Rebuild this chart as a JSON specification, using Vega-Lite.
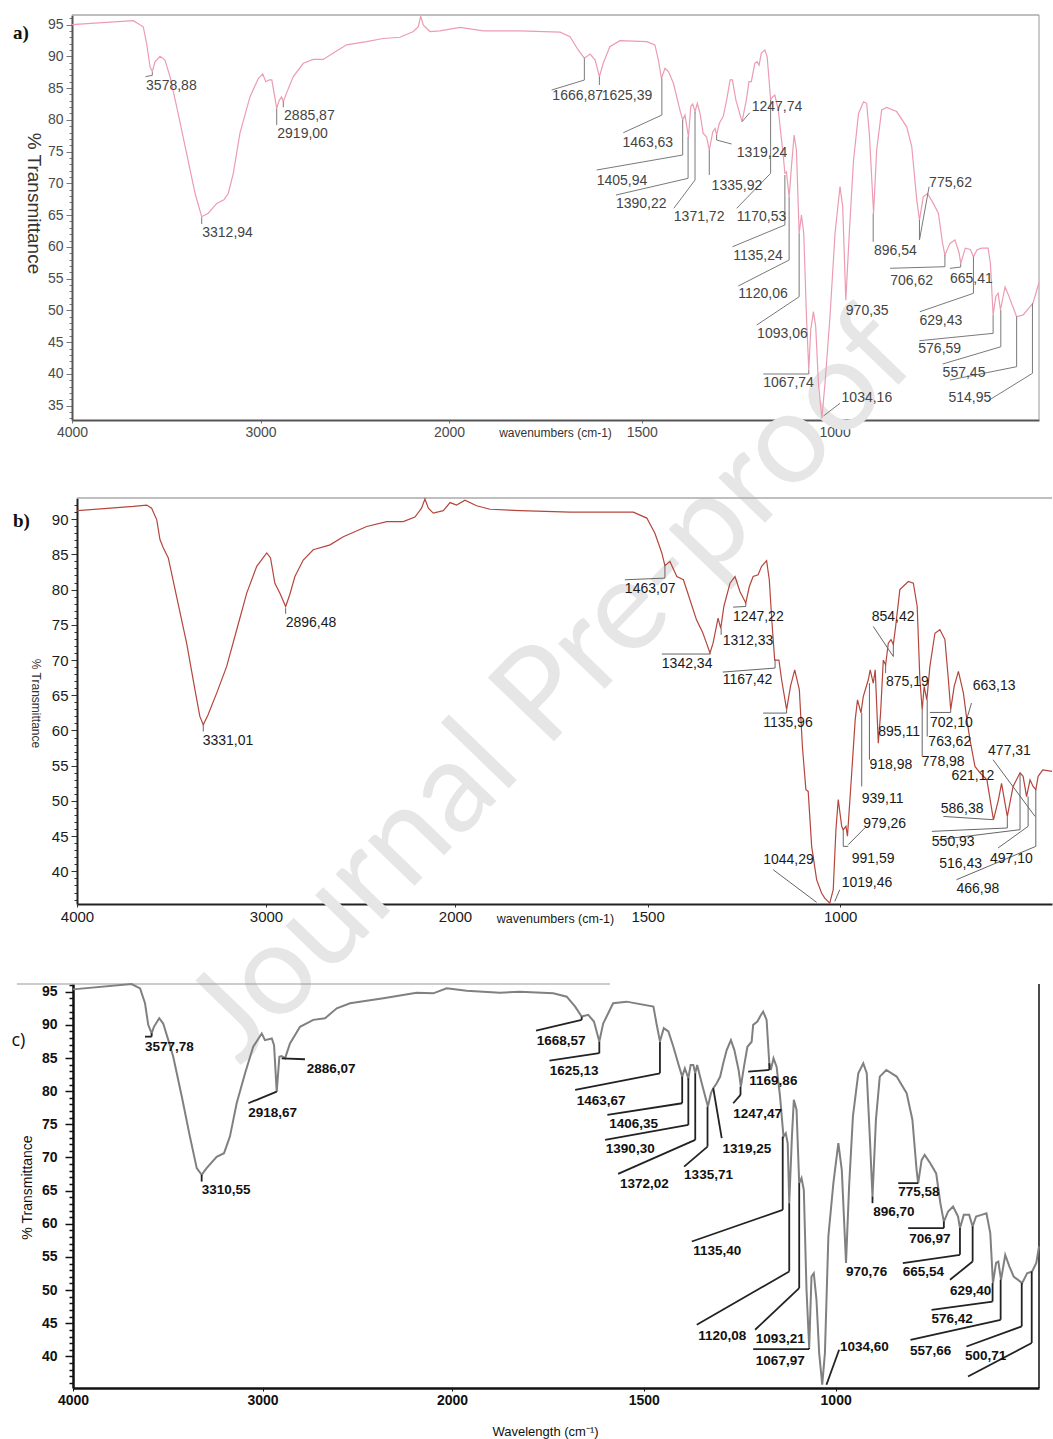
{
"$schema": "https://vega.github.io/schema/vega-lite/v6.json",
"width": 1053, "height": 1439,
"autosize": {"type": "none"},
"padding": 0,
"background": "white",
"config": {"view": {"stroke": null}, "axis": {"grid": false}},
"datasets": {
"ca": [{"w":4000,"t":95.0},{"w":3675,"t":95.6},{"w":3622,"t":94.65},{"w":3604,"t":92.0},{"w":3586,"t":88.35},{"w":3574,"t":87.6},{"w":3560,"t":89.1},{"w":3533,"t":90.0},{"w":3507,"t":89.4},{"w":3480,"t":86.8},{"w":3445,"t":82.1},{"w":3392,"t":74.7},{"w":3347,"t":68.4},{"w":3312,"t":64.75},{"w":3277,"t":65.3},{"w":3232,"t":66.85},{"w":3194,"t":67.4},{"w":3171,"t":68.4},{"w":3144,"t":71.6},{"w":3109,"t":77.9},{"w":3056,"t":83.6},{"w":3012,"t":86.5},{"w":2988,"t":87.2},{"w":2972,"t":86.0},{"w":2953,"t":86.3},{"w":2940,"t":86.3},{"w":2928,"t":84.2},{"w":2914,"t":81.8},{"w":2900,"t":83.1},{"w":2888,"t":83.6},{"w":2879,"t":82.85},{"w":2862,"t":84.2},{"w":2826,"t":86.8},{"w":2773,"t":88.9},{"w":2720,"t":89.5},{"w":2667,"t":89.5},{"w":2614,"t":90.5},{"w":2543,"t":91.8},{"w":2437,"t":92.3},{"w":2349,"t":92.8},{"w":2260,"t":93.0},{"w":2189,"t":93.9},{"w":2163,"t":94.65},{"w":2150,"t":96.3},{"w":2136,"t":94.9},{"w":2101,"t":93.9},{"w":2048,"t":94.0},{"w":1971,"t":94.55},{"w":1911,"t":94.0},{"w":1842,"t":94.0},{"w":1816,"t":94.0},{"w":1712,"t":93.8},{"w":1686,"t":93.1},{"w":1665,"t":91.0},{"w":1649,"t":89.7},{"w":1634,"t":90.35},{"w":1621,"t":89.4},{"w":1610,"t":86.8},{"w":1600,"t":88.9},{"w":1583,"t":91.5},{"w":1557,"t":92.45},{"w":1487,"t":92.3},{"w":1466,"t":91.8},{"w":1457,"t":89.4},{"w":1449,"t":86.5},{"w":1440,"t":88.1},{"w":1431,"t":87.6},{"w":1418,"t":85.75},{"w":1401,"t":81.5},{"w":1394,"t":80.0},{"w":1388,"t":80.75},{"w":1379,"t":77.3},{"w":1373,"t":82.1},{"w":1368,"t":82.5},{"w":1362,"t":81.3},{"w":1356,"t":82.6},{"w":1349,"t":81.0},{"w":1341,"t":77.9},{"w":1332,"t":77.3},{"w":1325,"t":75.25},{"w":1316,"t":78.1},{"w":1310,"t":78.65},{"w":1306,"t":77.6},{"w":1299,"t":79.45},{"w":1289,"t":80.5},{"w":1280,"t":83.1},{"w":1271,"t":86.3},{"w":1265,"t":86.3},{"w":1256,"t":83.1},{"w":1240,"t":79.7},{"w":1229,"t":83.1},{"w":1222,"t":86.0},{"w":1216,"t":86.0},{"w":1207,"t":88.9},{"w":1201,"t":89.15},{"w":1196,"t":88.6},{"w":1190,"t":90.5},{"w":1181,"t":91.0},{"w":1175,"t":89.95},{"w":1170,"t":86.3},{"w":1166,"t":83.1},{"w":1161,"t":83.6},{"w":1155,"t":83.9},{"w":1146,"t":81.5},{"w":1133,"t":74.2},{"w":1129,"t":71.6},{"w":1125,"t":71.8},{"w":1118,"t":67.9},{"w":1112,"t":72.6},{"w":1105,"t":77.6},{"w":1099,"t":75.25},{"w":1092,"t":62.1},{"w":1086,"t":65.0},{"w":1080,"t":62.1},{"w":1073,"t":49.0},{"w":1067,"t":40.6},{"w":1062,"t":46.9},{"w":1055,"t":49.8},{"w":1049,"t":47.4},{"w":1042,"t":38.5},{"w":1033,"t":33.0},{"w":1025,"t":38.5},{"w":1012,"t":49.0},{"w":999,"t":62.1},{"w":986,"t":69.5},{"w":979,"t":66.3},{"w":971,"t":51.6},{"w":962,"t":62.1},{"w":951,"t":73.6},{"w":938,"t":81.0},{"w":925,"t":82.85},{"w":917,"t":82.6},{"w":910,"t":77.9},{"w":899,"t":65.3},{"w":891,"t":75.25},{"w":878,"t":81.55},{"w":865,"t":81.95},{"w":839,"t":81.3},{"w":813,"t":78.9},{"w":800,"t":75.8},{"w":787,"t":67.4},{"w":780,"t":64.2},{"w":770,"t":67.9},{"w":759,"t":68.4},{"w":744,"t":66.85},{"w":731,"t":65.3},{"w":720,"t":60.55},{"w":714,"t":58.7},{"w":701,"t":60.55},{"w":688,"t":61.1},{"w":677,"t":59.0},{"w":673,"t":57.4},{"w":661,"t":59.8},{"w":648,"t":59.6},{"w":640,"t":58.45},{"w":631,"t":59.5},{"w":619,"t":59.8},{"w":602,"t":59.8},{"w":596,"t":57.4},{"w":589,"t":49.3},{"w":582,"t":52.2},{"w":576,"t":52.7},{"w":570,"t":50.1},{"w":558,"t":53.7},{"w":549,"t":52.4},{"w":541,"t":51.1},{"w":528,"t":49.0},{"w":511,"t":49.3},{"w":493,"t":50.6},{"w":486,"t":51.1},{"w":478,"t":52.7},{"w":470,"t":54.4}],
"la": [
{"s":"3578,88","lx":3607,"ly":85.4,"px":3574,"py":87.5,"bx":3574,"by":87.0,"ex":3610,"ey":86.8},
{"s":"3312,94","lx":3309,"ly":62.26,"px":3312,"py":64.65,"bx":3312,"by":63.6,"ex":3312,"ey":63.6},
{"s":"2885,87","lx":2875,"ly":80.63,"px":2879,"py":82.85,"bx":2879,"by":81.97,"ex":2879,"ey":81.97},
{"s":"2919,00","lx":2911,"ly":77.76,"px":2914,"py":81.8,"bx":2914,"by":79.18,"ex":2914,"ey":79.18},
{"s":"1666,87","lx":1732,"ly":83.78,"px":1649,"py":89.68,"bx":1649,"by":86.26,"ex":1734,"ey":84.69},
{"s":"1625,39","lx":1604,"ly":83.78,"px":1610,"py":86.78,"bx":1610,"by":85.48,"ex":1610,"ey":85.48},
{"s":"1463,63","lx":1550,"ly":76.43,"px":1448,"py":86.53,"bx":1448,"by":80.75,"ex":1548,"ey":77.97},
{"s":"1405,94","lx":1617,"ly":70.44,"px":1394,"py":79.97,"bx":1394,"by":74.46,"ex":1617,"ey":72.1},
{"s":"1390,22","lx":1567,"ly":66.75,"px":1380,"py":77.34,"bx":1380,"by":70.79,"ex":1567,"ey":68.16},
{"s":"1371,72","lx":1417,"ly":64.75,"px":1362,"py":81.27,"bx":1362,"by":70.52,"ex":1417,"ey":66.07},
{"s":"1335,92","lx":1319,"ly":69.61,"px":1325,"py":75.25,"bx":1325,"by":71.31,"ex":1325,"ey":71.31},
{"s":"1319,24","lx":1254,"ly":74.77,"px":1306,"py":77.61,"bx":1306,"by":76.82,"ex":1267,"ey":76.19},
{"s":"1247,74","lx":1215,"ly":81.94,"px":1240,"py":79.7,"bx":1240,"by":79.7,"ex":1220,"ey":81.12},
{"s":"1170,53","lx":1254,"ly":64.75,"px":1166,"py":83.12,"bx":1166,"by":71.58,"ex":1254,"ey":66.07},
{"s":"1135,24","lx":1263,"ly":58.59,"px":1129,"py":71.31,"bx":1129,"by":63.44,"ex":1265,"ey":60.02},
{"s":"1120,06","lx":1250,"ly":52.58,"px":1118,"py":67.9,"bx":1118,"by":57.93,"ex":1250,"ey":53.84},
{"s":"1093,06","lx":1201,"ly":46.28,"px":1092,"py":62.13,"bx":1092,"by":52.15,"ex":1202,"ey":47.7},
{"s":"1067,74","lx":1185,"ly":38.65,"px":1067,"py":40.6,"bx":1067,"by":39.99,"ex":1185,"ey":39.99},
{"s":"1034,16","lx":982,"ly":36.29,"px":1029,"py":33.38,"bx":1029,"by":33.38,"ex":986,"ey":35.38},
{"s":"970,35","lx":971,"ly":49.93,"px":971,"py":49.93,"bx":971,"by":49.93,"ex":971,"ey":49.93},
{"s":"896,54","lx":898,"ly":59.38,"px":900,"py":65.28,"bx":900,"by":60.81,"ex":900,"ey":60.81},
{"s":"775,62","lx":755,"ly":70.13,"px":780,"py":64.23,"bx":780,"by":61.08,"ex":755,"ey":69.47},
{"s":"706,62","lx":856,"ly":54.66,"px":714,"py":58.72,"bx":714,"by":56.88,"ex":856,"ey":56.63},
{"s":"665,41","lx":701,"ly":54.94,"px":673,"py":57.41,"bx":673,"by":56.83,"ex":701,"ey":56.62},
{"s":"629,43","lx":780,"ly":48.36,"px":640,"py":58.45,"bx":640,"by":52.69,"ex":779,"ey":49.79},
{"s":"576,59","lx":783,"ly":43.92,"px":589,"py":49.27,"bx":589,"by":46.39,"ex":780,"ey":45.23},
{"s":"557,45","lx":720,"ly":40.22,"px":569,"py":50.06,"bx":569,"by":44.28,"ex":720,"ey":41.56},
{"s":"","lx":701,"ly":39.04,"px":528,"py":49.01,"bx":528,"by":41.14,"ex":701,"ey":39.04},
{"s":"514,95","lx":705,"ly":36.29,"px":487,"py":51.12,"bx":487,"by":40.1,"ex":606,"ey":35.63}],
"cb": [{"w":4000,"t":91.2},{"w":3702,"t":91.8},{"w":3631,"t":92.0},{"w":3605,"t":91.55},{"w":3578,"t":89.9},{"w":3561,"t":87.1},{"w":3543,"t":85.9},{"w":3517,"t":84.5},{"w":3473,"t":79.0},{"w":3420,"t":72.4},{"w":3376,"t":65.8},{"w":3350,"t":62.0},{"w":3332,"t":60.8},{"w":3307,"t":62.2},{"w":3261,"t":65.3},{"w":3208,"t":69.1},{"w":3155,"t":74.3},{"w":3102,"t":79.5},{"w":3049,"t":83.3},{"w":2996,"t":85.2},{"w":2976,"t":84.5},{"w":2953,"t":80.9},{"w":2927,"t":79.5},{"w":2896,"t":77.6},{"w":2874,"t":79.3},{"w":2847,"t":81.85},{"w":2803,"t":84.2},{"w":2750,"t":85.65},{"w":2661,"t":86.35},{"w":2591,"t":87.5},{"w":2467,"t":88.95},{"w":2361,"t":89.65},{"w":2274,"t":89.65},{"w":2212,"t":90.3},{"w":2177,"t":91.55},{"w":2159,"t":92.85},{"w":2141,"t":91.55},{"w":2115,"t":90.85},{"w":2062,"t":91.2},{"w":2026,"t":92.35},{"w":1996,"t":92.0},{"w":1974,"t":92.7},{"w":1944,"t":91.9},{"w":1909,"t":91.4},{"w":1831,"t":91.2},{"w":1701,"t":91.0},{"w":1537,"t":91.0},{"w":1502,"t":90.15},{"w":1481,"t":88.0},{"w":1463,"t":85.2},{"w":1455,"t":83.4},{"w":1442,"t":84.0},{"w":1424,"t":81.85},{"w":1407,"t":81.4},{"w":1390,"t":78.55},{"w":1373,"t":75.7},{"w":1357,"t":73.9},{"w":1347,"t":72.4},{"w":1338,"t":71.0},{"w":1330,"t":72.4},{"w":1317,"t":75.95},{"w":1310,"t":74.5},{"w":1302,"t":77.6},{"w":1286,"t":80.9},{"w":1273,"t":81.85},{"w":1260,"t":79.7},{"w":1245,"t":78.1},{"w":1236,"t":80.4},{"w":1226,"t":81.85},{"w":1213,"t":82.1},{"w":1204,"t":83.3},{"w":1191,"t":84.1},{"w":1184,"t":81.4},{"w":1177,"t":75.25},{"w":1170,"t":70.0},{"w":1159,"t":70.0},{"w":1152,"t":67.2},{"w":1139,"t":62.95},{"w":1129,"t":66.25},{"w":1118,"t":68.6},{"w":1106,"t":65.8},{"w":1098,"t":57.7},{"w":1089,"t":51.6},{"w":1083,"t":51.35},{"w":1074,"t":43.55},{"w":1061,"t":38.8},{"w":1048,"t":36.9},{"w":1040,"t":36.2},{"w":1027,"t":35.5},{"w":1018,"t":37.4},{"w":1011,"t":45.9},{"w":1005,"t":50.2},{"w":996,"t":46.4},{"w":992,"t":45.9},{"w":985,"t":46.4},{"w":981,"t":45.0},{"w":970,"t":54.0},{"w":961,"t":61.5},{"w":955,"t":64.35},{"w":946,"t":62.5},{"w":940,"t":64.8},{"w":927,"t":67.2},{"w":922,"t":68.6},{"w":914,"t":66.7},{"w":909,"t":68.6},{"w":901,"t":58.2},{"w":895,"t":62.5},{"w":888,"t":70.0},{"w":882,"t":69.3},{"w":875,"t":72.4},{"w":868,"t":72.9},{"w":862,"t":72.2},{"w":856,"t":74.75},{"w":845,"t":80.0},{"w":823,"t":81.15},{"w":810,"t":80.9},{"w":800,"t":77.6},{"w":793,"t":67.2},{"w":787,"t":62.95},{"w":782,"t":66.25},{"w":775,"t":64.35},{"w":767,"t":69.1},{"w":754,"t":73.8},{"w":741,"t":74.3},{"w":728,"t":72.9},{"w":719,"t":67.2},{"w":713,"t":62.95},{"w":704,"t":66.25},{"w":693,"t":68.4},{"w":680,"t":65.3},{"w":671,"t":61.5},{"w":663,"t":58.7},{"w":650,"t":54.9},{"w":637,"t":54.0},{"w":619,"t":53.0},{"w":602,"t":47.3},{"w":589,"t":50.2},{"w":581,"t":52.5},{"w":566,"t":47.8},{"w":551,"t":52.05},{"w":533,"t":54.0},{"w":525,"t":53.5},{"w":516,"t":50.6},{"w":507,"t":53.0},{"w":499,"t":52.05},{"w":492,"t":51.6},{"w":486,"t":53.5},{"w":474,"t":54.4},{"w":450,"t":54.2}],
"lb": [
{"s":"3331,01","lx":3335,"ly":58.44,"px":3332,"py":60.81,"bx":3332,"by":59.86,"ex":3332,"ey":59.86},
{"s":"2896,48","lx":2896,"ly":75.24,"px":2896,"py":77.37,"bx":2896,"by":76.56,"ex":2896,"ey":76.56},
{"s":"1463,07","lx":1559,"ly":80.08,"px":1455,"py":83.37,"bx":1455,"by":81.63,"ex":1559,"ey":81.39},
{"s":"1342,34","lx":1463,"ly":69.47,"px":1338,"py":71.0,"bx":1338,"by":70.85,"ex":1463,"ey":70.85},
{"s":"1312,33","lx":1305,"ly":72.76,"px":1309,"py":74.53,"bx":1309,"by":73.58,"ex":1309,"ey":73.58},
{"s":"1247,22","lx":1278,"ly":76.07,"px":1245,"py":78.08,"bx":1245,"by":77.6,"ex":1278,"ey":77.51},
{"s":"1167,42","lx":1305,"ly":67.2,"px":1169,"py":70.04,"bx":1169,"by":68.86,"ex":1305,"ey":68.29},
{"s":"1135,96","lx":1200,"ly":61.06,"px":1139,"py":62.94,"bx":1139,"by":62.47,"ex":1200,"ey":62.47},
{"s":"854,42","lx":918,"ly":76.07,"px":862,"py":72.2,"bx":862,"by":70.5,"ex":914,"ey":74.76},
{"s":"875,19","lx":881,"ly":66.84,"px":882,"py":69.33,"bx":882,"by":68.15,"ex":882,"ey":68.15},
{"s":"895,11","lx":901,"ly":59.75,"px":901,"py":59.75,"bx":901,"by":59.75,"ex":901,"ey":59.75},
{"s":"918,98","lx":924,"ly":55.03,"px":924,"py":66.73,"bx":924,"by":55.85,"ex":924,"ey":55.85},
{"s":"939,11","lx":944,"ly":50.29,"px":944,"py":62.47,"bx":944,"by":52.06,"ex":944,"ey":52.06},
{"s":"979,26","lx":940,"ly":46.74,"px":979,"py":43.79,"bx":979,"by":43.79,"ex":936,"ey":46.16},
{"s":"991,59","lx":970,"ly":41.77,"px":992,"py":45.92,"bx":992,"by":43.55,"ex":979,"ey":43.55},
{"s":"1044,29","lx":1200,"ly":41.55,"px":1061,"py":35.6,"bx":1061,"by":35.6,"ex":1174,"ey":40.24},
{"s":"1019,46","lx":996,"ly":38.42,"px":1014,"py":35.74,"bx":1014,"by":35.74,"ex":1001,"ey":37.4},
{"s":"663,13","lx":656,"ly":66.38,"px":672,"py":61.52,"bx":672,"by":61.52,"ex":659,"ey":63.89},
{"s":"702,10","lx":767,"ly":61.06,"px":713,"py":62.94,"bx":713,"by":62.56,"ex":767,"ey":62.56},
{"s":"763,62","lx":771,"ly":58.33,"px":774,"py":64.36,"bx":774,"by":59.15,"ex":774,"ey":59.15},
{"s":"778,98","lx":788,"ly":55.49,"px":787,"py":62.94,"bx":787,"by":56.32,"ex":787,"ey":56.32},
{"s":"621,12","lx":711,"ly":53.61,"px":711,"py":53.61,"bx":711,"by":53.61,"ex":711,"ey":53.61},
{"s":"477,31","lx":616,"ly":57.15,"px":494,"py":47.8,"bx":494,"by":47.8,"ex":603,"ey":55.85},
{"s":"586,38","lx":739,"ly":48.87,"px":603,"py":47.34,"bx":603,"by":47.34,"ex":732,"ey":47.8},
{"s":"550,93","lx":762,"ly":44.14,"px":566,"py":47.8,"bx":566,"by":46.16,"ex":762,"ey":45.68},
{"s":"516,43","lx":743,"ly":41.06,"px":533,"py":53.96,"bx":533,"by":45.92,"ex":743,"ey":44.5},
{"s":"497,10","lx":611,"ly":41.77,"px":512,"py":50.64,"bx":512,"by":46.39,"ex":590,"ey":43.32},
{"s":"466,98","lx":698,"ly":37.52,"px":492,"py":51.59,"bx":492,"by":43.55,"ex":698,"ey":38.82}],
"cc": [{"w":4000,"t":95.35},{"w":3691,"t":96.15},{"w":3646,"t":95.5},{"w":3620,"t":93.25},{"w":3603,"t":90.0},{"w":3585,"t":88.7},{"w":3573,"t":89.7},{"w":3545,"t":91.0},{"w":3524,"t":90.2},{"w":3497,"t":87.7},{"w":3471,"t":85.2},{"w":3426,"t":79.2},{"w":3383,"t":73.15},{"w":3347,"t":68.4},{"w":3321,"t":67.4},{"w":3295,"t":68.4},{"w":3242,"t":70.1},{"w":3203,"t":70.65},{"w":3172,"t":73.15},{"w":3136,"t":78.2},{"w":3092,"t":82.7},{"w":3049,"t":86.7},{"w":3004,"t":88.7},{"w":2987,"t":87.7},{"w":2951,"t":87.95},{"w":2939,"t":86.95},{"w":2925,"t":79.9},{"w":2911,"t":85.2},{"w":2899,"t":85.3},{"w":2881,"t":84.95},{"w":2855,"t":87.2},{"w":2802,"t":89.7},{"w":2732,"t":90.75},{"w":2670,"t":91.0},{"w":2608,"t":92.5},{"w":2538,"t":93.25},{"w":2362,"t":94.0},{"w":2187,"t":94.85},{"w":2099,"t":94.75},{"w":2028,"t":95.5},{"w":1962,"t":95.15},{"w":1875,"t":94.85},{"w":1823,"t":95.0},{"w":1736,"t":94.75},{"w":1701,"t":94.25},{"w":1679,"t":92.75},{"w":1662,"t":91.25},{"w":1645,"t":91.5},{"w":1630,"t":90.5},{"w":1616,"t":87.5},{"w":1606,"t":90.2},{"w":1580,"t":93.25},{"w":1545,"t":93.5},{"w":1475,"t":92.75},{"w":1467,"t":90.2},{"w":1458,"t":87.5},{"w":1448,"t":89.5},{"w":1436,"t":89.0},{"w":1423,"t":86.7},{"w":1408,"t":83.7},{"w":1400,"t":82.2},{"w":1393,"t":83.45},{"w":1384,"t":81.95},{"w":1378,"t":83.95},{"w":1371,"t":83.95},{"w":1366,"t":82.7},{"w":1361,"t":83.95},{"w":1349,"t":81.2},{"w":1340,"t":79.2},{"w":1333,"t":77.7},{"w":1325,"t":79.7},{"w":1319,"t":80.45},{"w":1310,"t":81.2},{"w":1301,"t":82.2},{"w":1293,"t":84.2},{"w":1284,"t":86.2},{"w":1273,"t":87.7},{"w":1264,"t":86.2},{"w":1253,"t":83.2},{"w":1247,"t":80.7},{"w":1239,"t":83.7},{"w":1230,"t":86.7},{"w":1219,"t":87.45},{"w":1215,"t":90.0},{"w":1204,"t":90.5},{"w":1197,"t":91.25},{"w":1189,"t":92.0},{"w":1180,"t":90.75},{"w":1173,"t":84.2},{"w":1169,"t":83.2},{"w":1162,"t":84.95},{"w":1154,"t":83.7},{"w":1145,"t":79.2},{"w":1136,"t":73.15},{"w":1130,"t":73.65},{"w":1125,"t":72.15},{"w":1121,"t":63.1},{"w":1114,"t":73.15},{"w":1109,"t":78.7},{"w":1102,"t":77.2},{"w":1095,"t":66.1},{"w":1089,"t":66.9},{"w":1083,"t":65.1},{"w":1076,"t":50.05},{"w":1069,"t":41.3},{"w":1063,"t":52.05},{"w":1057,"t":52.55},{"w":1050,"t":48.55},{"w":1043,"t":40.5},{"w":1035,"t":35.75},{"w":1028,"t":40.5},{"w":1019,"t":58.1},{"w":1006,"t":66.1},{"w":993,"t":72.15},{"w":984,"t":68.1},{"w":973,"t":54.1},{"w":965,"t":65.6},{"w":955,"t":76.2},{"w":941,"t":82.7},{"w":928,"t":84.2},{"w":919,"t":82.7},{"w":911,"t":73.15},{"w":904,"t":64.1},{"w":895,"t":75.7},{"w":885,"t":82.2},{"w":868,"t":83.2},{"w":841,"t":82.2},{"w":815,"t":79.7},{"w":800,"t":75.7},{"w":789,"t":68.1},{"w":785,"t":66.1},{"w":776,"t":69.6},{"w":768,"t":70.4},{"w":753,"t":69.1},{"w":738,"t":67.6},{"w":727,"t":63.1},{"w":718,"t":60.3},{"w":707,"t":61.85},{"w":694,"t":62.6},{"w":681,"t":61.1},{"w":676,"t":59.35},{"w":666,"t":61.35},{"w":652,"t":61.35},{"w":643,"t":59.6},{"w":634,"t":61.1},{"w":620,"t":61.35},{"w":607,"t":61.6},{"w":597,"t":58.6},{"w":590,"t":51.05},{"w":582,"t":54.1},{"w":576,"t":54.3},{"w":569,"t":51.55},{"w":558,"t":55.3},{"w":547,"t":53.55},{"w":536,"t":52.05},{"w":514,"t":51.05},{"w":501,"t":52.55},{"w":488,"t":52.8},{"w":477,"t":54.1},{"w":470,"t":56.6}],
"lc": [
{"s":"3577,78","lx":3620,"ly":86.71,"px":3585,"py":88.73,"bx":3585,"by":88.22,"ex":3620,"ey":88.22},
{"s":"3310,55","lx":3321,"ly":65.12,"px":3321,"py":67.38,"bx":3321,"by":66.37,"ex":3321,"ey":66.37},
{"s":"2918,67","lx":3075,"ly":76.68,"px":2925,"py":79.93,"bx":2925,"by":79.93,"ex":3075,"ey":78.18},
{"s":"2886,07","lx":2767,"ly":83.32,"px":2899,"py":84.96,"bx":2899,"by":84.96,"ex":2776,"ey":84.81},
{"s":"1668,57","lx":1779,"ly":87.6,"px":1662,"py":91.23,"bx":1662,"by":90.74,"ex":1781,"ey":89.12},
{"s":"1625,13","lx":1745,"ly":83.08,"px":1616,"py":87.47,"bx":1616,"by":85.72,"ex":1746,"ey":84.6},
{"s":"1463,67","lx":1675,"ly":78.56,"px":1458,"py":87.47,"bx":1458,"by":82.7,"ex":1679,"ey":80.19},
{"s":"1406,35","lx":1590,"ly":75.03,"px":1400,"py":82.19,"bx":1400,"by":78.18,"ex":1595,"ey":76.42},
{"s":"1390,30","lx":1599,"ly":71.27,"px":1384,"py":81.95,"bx":1384,"by":74.91,"ex":1601,"ey":72.65},
{"s":"1372,02","lx":1562,"ly":65.99,"px":1366,"py":82.7,"bx":1366,"by":72.65,"ex":1567,"ey":67.53},
{"s":"1335,71","lx":1395,"ly":67.3,"px":1334,"py":77.67,"bx":1334,"by":71.64,"ex":1395,"ey":68.63},
{"s":"1319,25","lx":1295,"ly":71.27,"px":1319,"py":80.44,"bx":1319,"by":80.44,"ex":1297,"ey":72.91},
{"s":"1247,47","lx":1267,"ly":76.54,"px":1248,"py":80.68,"bx":1248,"by":79.43,"ex":1267,"ey":78.18},
{"s":"1169,86","lx":1225,"ly":81.57,"px":1173,"py":84.21,"bx":1173,"by":83.2,"ex":1228,"ey":82.94},
{"s":"1135,40","lx":1371,"ly":55.96,"px":1138,"py":73.15,"bx":1138,"by":62.1,"ex":1375,"ey":57.33},
{"s":"1120,08","lx":1358,"ly":43.15,"px":1121,"py":63.11,"bx":1121,"by":52.81,"ex":1362,"ey":44.77},
{"s":"1093,21","lx":1208,"ly":42.63,"px":1095,"py":66.13,"bx":1095,"by":50.3,"ex":1210,"ey":44.02},
{"s":"1067,97","lx":1208,"ly":39.38,"px":1069,"py":41.3,"bx":1069,"by":41.11,"ex":1215,"ey":41.11},
{"s":"1034,60","lx":989,"ly":41.38,"px":1024,"py":35.73,"bx":1024,"by":35.73,"ex":991,"ey":41.01},
{"s":"970,76","lx":973,"ly":52.69,"px":973,"py":52.69,"bx":973,"by":52.69,"ex":973,"ey":52.69},
{"s":"896,70","lx":902,"ly":61.73,"px":904,"py":64.11,"bx":904,"by":63.11,"ex":904,"ey":63.11},
{"s":"775,58","lx":837,"ly":64.74,"px":785,"py":66.13,"bx":785,"by":66.13,"ex":837,"ey":66.13},
{"s":"706,97","lx":808,"ly":57.7,"px":718,"py":60.34,"bx":718,"by":59.35,"ex":811,"ey":59.35},
{"s":"665,54","lx":825,"ly":52.69,"px":676,"py":59.35,"bx":676,"by":55.32,"ex":825,"ey":54.07},
{"s":"629,40","lx":702,"ly":49.93,"px":643,"py":59.59,"bx":643,"by":54.31,"ex":702,"ey":51.56},
{"s":"576,42","lx":750,"ly":45.65,"px":591,"py":51.06,"bx":591,"by":48.28,"ex":750,"ey":47.03},
{"s":"557,66","lx":806,"ly":40.89,"px":570,"py":51.56,"bx":570,"by":45.53,"ex":805,"ey":42.51},
{"s":"500,71","lx":663,"ly":40.13,"px":515,"py":51.06,"bx":515,"by":44.52,"ex":659,"ey":41.5},
{"s":"","lx":655,"ly":36.98,"px":489,"py":52.81,"bx":489,"by":42.02,"ex":655,"ey":36.98}]
},
"layer": [
{"data": {"values": [{"k": "Journal Pre-proof"}]},
 "mark": {"type": "text", "font": "Lato", "fontSize": 128, "color": "#e6e6e6", "angle": -46, "align": "center", "baseline": "middle"},
 "encoding": {
  "x": {"datum": 1746, "type": "quantitative", "scale": {"domain": [4000, 2000, 450], "range": [77, 455, 1052], "nice": false, "zero": false}, "axis": null},
  "y": {"datum": 66.06, "type": "quantitative", "scale": {"domain": [35.37, 93.0], "range": [904, 498], "nice": false, "zero": false}, "axis": null},
  "text": {"field": "k"}}},

{"data": {"values": [{"k": 1}]},
 "mark": {"type": "rule", "color": "#aaaaaa", "strokeWidth": 1.5},
 "encoding": {
  "x": {"datum": 4000, "type": "quantitative", "scale": {"domain": [4000, 2000, 470], "range": [72, 449, 1039], "nice": false, "zero": false}, "axis": null},
  "x2": {"datum": 470},
  "y": {"datum": 96.5, "type": "quantitative", "scale": {"domain": [32.75, 96.5], "range": [420, 15], "nice": false, "zero": false}, "axis": null}}},
{"data": {"values": [{"k": 1}]},
 "mark": {"type": "rule", "color": "#999999", "strokeWidth": 1},
 "encoding": {
  "x": {"datum": 470, "type": "quantitative", "scale": {"domain": [4000, 2000, 470], "range": [72, 449, 1039], "nice": false, "zero": false}, "axis": null},
  "y": {"datum": 32.75, "type": "quantitative", "scale": {"domain": [32.75, 96.5], "range": [420, 15], "nice": false, "zero": false}, "axis": null},
  "y2": {"datum": 96.5}}},
{"data": {"name": "ca"},
 "mark": {"type": "line", "color": "#ec9cb2", "strokeWidth": 1.2},
 "encoding": {
  "x": {"field": "w", "type": "quantitative", "scale": {"domain": [4000, 2000, 470], "range": [72, 449, 1039], "nice": false, "zero": false},
   "axis": {"orient": "bottom", "offset": -1019, "values": [4000, 3000, 2000, 1500, 1000], "format": "d", "labelFlush": false, "labelOverlap": false, "labelFont": "Liberation Sans", "labelFontSize": 14, "labelColor": "#4a4a4a", "labelPadding": 2, "tickSize": 3, "tickColor": "#777777", "domainColor": "#555555", "domainWidth": 2, "title": "wavenumbers (cm-1)", "titleFont": "Liberation Sans", "titleFontSize": 12, "titleFontWeight": "normal", "titleColor": "#333333", "titleX": 555, "titleY": 12, "titleAlign": "center", "titleBaseline": "middle"}},
  "y": {"field": "t", "type": "quantitative", "scale": {"domain": [32.75, 96.5], "range": [420, 15], "nice": false, "zero": false},
   "axis": {"orient": "left", "offset": -72, "values": [33,34,35,36,37,38,39,40,41,42,43,44,45,46,47,48,49,50,51,52,53,54,55,56,57,58,59,60,61,62,63,64,65,66,67,68,69,70,71,72,73,74,75,76,77,78,79,80,81,82,83,84,85,86,87,88,89,90,91,92,93,94,95,96], "labelExpr": "datum.value % 5 === 0 ? datum.label : ''", "labelFlush": false, "labelOverlap": false, "labelFont": "Liberation Sans", "labelFontSize": 14, "labelColor": "#4a4a4a", "labelPadding": 3, "tickSize": {"condition": {"test": "datum.value % 5 === 0", "value": 6}, "value": 3}, "tickColor": "#777777", "domainColor": "#555555", "domainWidth": 2, "title": "% Transmittance", "titleFont": "Liberation Sans", "titleFontSize": 19, "titleFontWeight": "normal", "titleColor": "#333333", "titleAngle": 90, "titleX": -39, "titleY": 203, "titleAlign": "center", "titleBaseline": "middle"}}}},
{"data": {"name": "la"},
 "mark": {"type": "rule", "color": "#7a7a7a", "strokeWidth": 1},
 "encoding": {
  "x": {"field": "px", "type": "quantitative", "scale": {"domain": [4000, 2000, 470], "range": [72, 449, 1039], "nice": false, "zero": false}, "axis": null},
  "y": {"field": "py", "type": "quantitative", "scale": {"domain": [32.75, 96.5], "range": [420, 15], "nice": false, "zero": false}, "axis": null},
  "x2": {"field": "bx"}, "y2": {"field": "by"}}},
{"data": {"name": "la"},
 "mark": {"type": "rule", "color": "#7a7a7a", "strokeWidth": 1},
 "encoding": {
  "x": {"field": "bx", "type": "quantitative", "scale": {"domain": [4000, 2000, 470], "range": [72, 449, 1039], "nice": false, "zero": false}, "axis": null},
  "y": {"field": "by", "type": "quantitative", "scale": {"domain": [32.75, 96.5], "range": [420, 15], "nice": false, "zero": false}, "axis": null},
  "x2": {"field": "ex"}, "y2": {"field": "ey"}}},
{"data": {"name": "la"},
 "mark": {"type": "text", "font": "Liberation Sans", "fontSize": 14, "color": "#444444", "align": "left", "baseline": "middle"},
 "encoding": {
  "x": {"field": "lx", "type": "quantitative", "scale": {"domain": [4000, 2000, 470], "range": [72, 449, 1039], "nice": false, "zero": false}, "axis": null},
  "y": {"field": "ly", "type": "quantitative", "scale": {"domain": [32.75, 96.5], "range": [420, 15], "nice": false, "zero": false}, "axis": null},
  "text": {"field": "s"}}},
{"data": {"values": [{"k": "a)"}]},
 "mark": {"type": "text", "font": "Liberation Serif", "fontSize": 19, "fontWeight": "bold", "color": "#111111", "align": "center", "baseline": "middle"},
 "encoding": {
  "x": {"datum": 4271, "type": "quantitative", "scale": {"domain": [4000, 2000, 470], "range": [72, 449, 1039], "nice": false, "zero": false}, "axis": null},
  "y": {"datum": 93.66, "type": "quantitative", "scale": {"domain": [32.75, 96.5], "range": [420, 15], "nice": false, "zero": false}, "axis": null},
  "text": {"field": "k"}}},

{"data": {"values": [{"k": 1}]},
 "mark": {"type": "rule", "color": "#aaaaaa", "strokeWidth": 1.5},
 "encoding": {
  "x": {"datum": 4000, "type": "quantitative", "scale": {"domain": [4000, 2000, 450], "range": [77, 455, 1052], "nice": false, "zero": false}, "axis": null},
  "x2": {"datum": 450},
  "y": {"datum": 93.0, "type": "quantitative", "scale": {"domain": [35.37, 93.0], "range": [904, 498], "nice": false, "zero": false}, "axis": null}}},
{"data": {"name": "cb"},
 "mark": {"type": "line", "color": "#b4463d", "strokeWidth": 1.2},
 "encoding": {
  "x": {"field": "w", "type": "quantitative", "scale": {"domain": [4000, 2000, 450], "range": [77, 455, 1052], "nice": false, "zero": false},
   "axis": {"orient": "bottom", "offset": -535, "values": [4000, 3000, 2000, 1500, 1000], "format": "d", "labelFlush": false, "labelOverlap": false, "labelFont": "Liberation Sans", "labelFontSize": 15, "labelColor": "#1a1a1a", "labelPadding": 2, "tickSize": 3, "tickColor": "#333333", "domainColor": "#222222", "domainWidth": 2, "title": "wavenumbers (cm-1)", "titleFont": "Liberation Sans", "titleFontSize": 12.5, "titleFontWeight": "normal", "titleColor": "#1a1a1a", "titleX": 555, "titleY": 14, "titleAlign": "center", "titleBaseline": "middle"}},
  "y": {"field": "t", "type": "quantitative", "scale": {"domain": [35.37, 93.0], "range": [904, 498], "nice": false, "zero": false},
   "axis": {"orient": "left", "offset": -77, "values": [36,37,38,39,40,41,42,43,44,45,46,47,48,49,50,51,52,53,54,55,56,57,58,59,60,61,62,63,64,65,66,67,68,69,70,71,72,73,74,75,76,77,78,79,80,81,82,83,84,85,86,87,88,89,90,91,92], "labelExpr": "datum.value % 5 === 0 ? datum.label : ''", "labelFlush": false, "labelOverlap": false, "labelFont": "Liberation Sans", "labelFontSize": 15, "labelColor": "#1a1a1a", "labelPadding": 3, "tickSize": {"condition": {"test": "datum.value % 5 === 0", "value": 6}, "value": 3}, "tickColor": "#333333", "domainColor": "#222222", "domainWidth": 2, "title": "% Transmittance", "titleFont": "Liberation Sans", "titleFontSize": 12, "titleFontWeight": "normal", "titleColor": "#333333", "titleAngle": 90, "titleX": -42, "titleY": 703, "titleAlign": "center", "titleBaseline": "middle"}}}},
{"data": {"name": "lb"},
 "mark": {"type": "rule", "color": "#666666", "strokeWidth": 1},
 "encoding": {
  "x": {"field": "px", "type": "quantitative", "scale": {"domain": [4000, 2000, 450], "range": [77, 455, 1052], "nice": false, "zero": false}, "axis": null},
  "y": {"field": "py", "type": "quantitative", "scale": {"domain": [35.37, 93.0], "range": [904, 498], "nice": false, "zero": false}, "axis": null},
  "x2": {"field": "bx"}, "y2": {"field": "by"}}},
{"data": {"name": "lb"},
 "mark": {"type": "rule", "color": "#666666", "strokeWidth": 1},
 "encoding": {
  "x": {"field": "bx", "type": "quantitative", "scale": {"domain": [4000, 2000, 450], "range": [77, 455, 1052], "nice": false, "zero": false}, "axis": null},
  "y": {"field": "by", "type": "quantitative", "scale": {"domain": [35.37, 93.0], "range": [904, 498], "nice": false, "zero": false}, "axis": null},
  "x2": {"field": "ex"}, "y2": {"field": "ey"}}},
{"data": {"name": "lb"},
 "mark": {"type": "text", "font": "Liberation Sans", "fontSize": 14, "color": "#1a1a1a", "align": "left", "baseline": "middle"},
 "encoding": {
  "x": {"field": "lx", "type": "quantitative", "scale": {"domain": [4000, 2000, 450], "range": [77, 455, 1052], "nice": false, "zero": false}, "axis": null},
  "y": {"field": "ly", "type": "quantitative", "scale": {"domain": [35.37, 93.0], "range": [904, 498], "nice": false, "zero": false}, "axis": null},
  "text": {"field": "s"}}},
{"data": {"values": [{"k": "b)"}]},
 "mark": {"type": "text", "font": "Liberation Serif", "fontSize": 19, "fontWeight": "bold", "color": "#111111", "align": "center", "baseline": "middle"},
 "encoding": {
  "x": {"datum": 4294, "type": "quantitative", "scale": {"domain": [4000, 2000, 450], "range": [77, 455, 1052], "nice": false, "zero": false}, "axis": null},
  "y": {"datum": 89.69, "type": "quantitative", "scale": {"domain": [35.37, 93.0], "range": [904, 498], "nice": false, "zero": false}, "axis": null},
  "text": {"field": "k"}}},

{"data": {"values": [{"k": 1}]},
 "mark": {"type": "rule", "color": "#999999", "strokeWidth": 1.2},
 "encoding": {
  "x": {"datum": 4296, "type": "quantitative", "scale": {"domain": [4000, 2000, 470], "range": [73, 452, 1039], "nice": false, "zero": false}, "axis": null},
  "x2": {"datum": 1588},
  "y": {"datum": 96.16, "type": "quantitative", "scale": {"domain": [35.24, 96.16], "range": [1388, 984], "nice": false, "zero": false}, "axis": null}}},
{"data": {"values": [{"k": 1}]},
 "mark": {"type": "rule", "color": "#111111", "strokeWidth": 1.5},
 "encoding": {
  "x": {"datum": 470, "type": "quantitative", "scale": {"domain": [4000, 2000, 470], "range": [73, 452, 1039], "nice": false, "zero": false}, "axis": null},
  "y": {"datum": 35.24, "type": "quantitative", "scale": {"domain": [35.24, 96.16], "range": [1388, 984], "nice": false, "zero": false}, "axis": null},
  "y2": {"datum": 96.16}}},
{"data": {"name": "cc"},
 "mark": {"type": "line", "color": "#808080", "strokeWidth": 2},
 "encoding": {
  "x": {"field": "w", "type": "quantitative", "scale": {"domain": [4000, 2000, 470], "range": [73, 452, 1039], "nice": false, "zero": false},
   "axis": {"orient": "bottom", "offset": -51, "values": [4000, 3000, 2000, 1500, 1000], "format": "d", "labelFlush": false, "labelOverlap": false, "labelFont": "Liberation Sans", "labelFontSize": 14, "labelFontWeight": "bold", "labelColor": "#111111", "labelPadding": 2, "tickSize": 3, "tickColor": "#111111", "domainColor": "#111111", "domainWidth": 2.5, "title": "Wavelength (cm⁻¹)", "titleFont": "Liberation Sans", "titleFontSize": 13, "titleFontWeight": "normal", "titleColor": "#111111", "titleX": 545, "titleY": 43, "titleAlign": "center", "titleBaseline": "middle"}},
  "y": {"field": "t", "type": "quantitative", "scale": {"domain": [35.24, 96.16], "range": [1388, 984], "nice": false, "zero": false},
   "axis": {"orient": "left", "offset": -73, "values": [36,37,38,39,40,41,42,43,44,45,46,47,48,49,50,51,52,53,54,55,56,57,58,59,60,61,62,63,64,65,66,67,68,69,70,71,72,73,74,75,76,77,78,79,80,81,82,83,84,85,86,87,88,89,90,91,92,93,94,95,96], "labelExpr": "datum.value % 5 === 0 ? datum.label : ''", "labelFlush": false, "labelOverlap": false, "labelFont": "Liberation Sans", "labelFontSize": 14, "labelFontWeight": "bold", "labelColor": "#111111", "labelPadding": 8, "tickSize": {"condition": {"test": "datum.value % 5 === 0", "value": 8}, "value": 4}, "tickColor": "#111111", "tickWidth": 1.5, "domainColor": "#111111", "domainWidth": 2.5, "title": "% Transmittance", "titleFont": "Liberation Sans", "titleFontSize": 14, "titleFontWeight": "normal", "titleColor": "#111111", "titleAngle": -90, "titleX": -46, "titleY": 1187, "titleAlign": "center", "titleBaseline": "middle"}}}},
{"data": {"name": "lc"},
 "mark": {"type": "rule", "color": "#222222", "strokeWidth": 1.8},
 "encoding": {
  "x": {"field": "px", "type": "quantitative", "scale": {"domain": [4000, 2000, 470], "range": [73, 452, 1039], "nice": false, "zero": false}, "axis": null},
  "y": {"field": "py", "type": "quantitative", "scale": {"domain": [35.24, 96.16], "range": [1388, 984], "nice": false, "zero": false}, "axis": null},
  "x2": {"field": "bx"}, "y2": {"field": "by"}}},
{"data": {"name": "lc"},
 "mark": {"type": "rule", "color": "#222222", "strokeWidth": 1.8},
 "encoding": {
  "x": {"field": "bx", "type": "quantitative", "scale": {"domain": [4000, 2000, 470], "range": [73, 452, 1039], "nice": false, "zero": false}, "axis": null},
  "y": {"field": "by", "type": "quantitative", "scale": {"domain": [35.24, 96.16], "range": [1388, 984], "nice": false, "zero": false}, "axis": null},
  "x2": {"field": "ex"}, "y2": {"field": "ey"}}},
{"data": {"name": "lc"},
 "mark": {"type": "text", "font": "Liberation Sans", "fontSize": 13.5, "fontWeight": "bold", "color": "#111111", "align": "left", "baseline": "middle"},
 "encoding": {
  "x": {"field": "lx", "type": "quantitative", "scale": {"domain": [4000, 2000, 470], "range": [73, 452, 1039], "nice": false, "zero": false}, "axis": null},
  "y": {"field": "ly", "type": "quantitative", "scale": {"domain": [35.24, 96.16], "range": [1388, 984], "nice": false, "zero": false}, "axis": null},
  "text": {"field": "s"}}},
{"data": {"values": [{"k": "c)"}]},
 "mark": {"type": "text", "font": "Open Sans", "fontSize": 18, "color": "#111111", "align": "center", "baseline": "middle"},
 "encoding": {
  "x": {"datum": 4288, "type": "quantitative", "scale": {"domain": [4000, 2000, 470], "range": [73, 452, 1039], "nice": false, "zero": false}, "axis": null},
  "y": {"datum": 87.57, "type": "quantitative", "scale": {"domain": [35.24, 96.16], "range": [1388, 984], "nice": false, "zero": false}, "axis": null},
  "text": {"field": "k"}}}
],
"resolve": {"scale": {"x": "independent", "y": "independent"}}
}
